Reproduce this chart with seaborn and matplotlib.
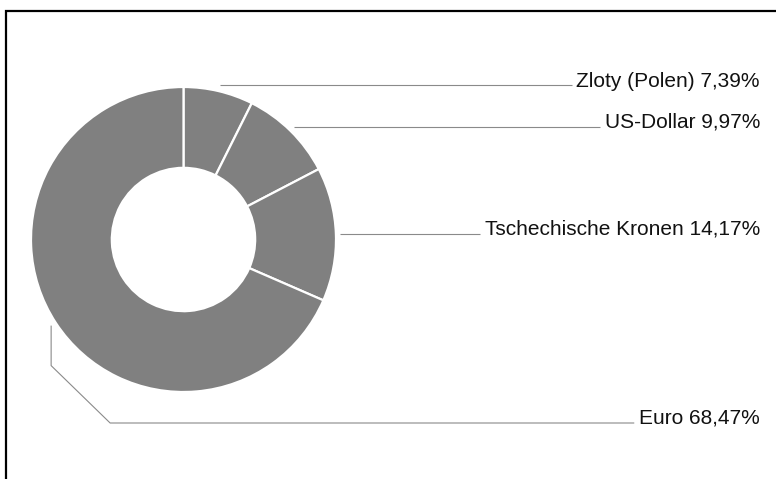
import seaborn as sns
import numpy as np
import matplotlib.pyplot as plt

# data
currencies = ["Zloty (Polen)", "US-Dollar", "Tschechische Kronen", "Euro"]
shares = [7.39, 9.97, 14.17, 68.47]
share_labels = ["7,39%", "9,97%", "14,17%", "68,47%"]

sns.set_theme(style="white")
plt.rcParams['font.family'] = ['Liberation Sans', 'DejaVu Sans']

W, H = 776, 479
fig = plt.figure(figsize=(W / 100, H / 100), dpi=100)
ax = fig.add_axes([0, 0, 1, 1])
ax.set_xlim(0, W)
ax.set_ylim(0, H)
ax.set_aspect('equal')
ax.axis('off')

cx, cy, r = 183.5, 239.5, 152.5
wedges, _ = ax.pie(shares, colors=["#808080"] * len(shares), startangle=90,
                   counterclock=False, center=(cx, cy), radius=r,
                   wedgeprops=dict(width=r * 0.53, edgecolor="white", linewidth=1.6))
ax.set_xlim(0, W)
ax.set_ylim(0, H)

# label rows (pixel y from top) and where the text ends
label_y = [81, 122, 229, 418]
line_dy = [4, 5, 5, 5]
text_right = 760

fig.canvas.draw()
renderer = fig.canvas.get_renderer()
for i, (w, name, lab) in enumerate(zip(wedges, currencies, share_labels)):
    ang = np.deg2rad((w.theta1 + w.theta2) / 2)
    ax_x = cx + r * 1.03 * np.cos(ang)
    ax_y = cy + r * 1.03 * np.sin(ang)
    ty = H - label_y[i]
    t = ax.text(text_right, ty, f"{name} {lab}", ha="right", va="center",
                fontsize=15, color="#111111")
    bb = t.get_window_extent(renderer).transformed(ax.transData.inverted())
    ly = ty - line_dy[i]
    if ax_x > cx:
        xs, ys = [ax_x, bb.x0 - 5], [ly, ly]
    else:
        # leader for the big slice: down, diagonal, then across
        drop_y = ax_y - 40
        xs = [ax_x - 1, ax_x - 1, ax_x + 58, bb.x0 - 5]
        ys = [ax_y, drop_y, ly, ly]
    ax.plot(xs, ys, color="#8a8a8a", linewidth=0.8, solid_capstyle="butt")

# frame (top and left only)
ax.plot([6, 6, W], [0, H - 10.5, H - 10.5], color="black", linewidth=1.6,
        clip_on=False, solid_joinstyle="miter")

fig.savefig("out.png", dpi=100)
